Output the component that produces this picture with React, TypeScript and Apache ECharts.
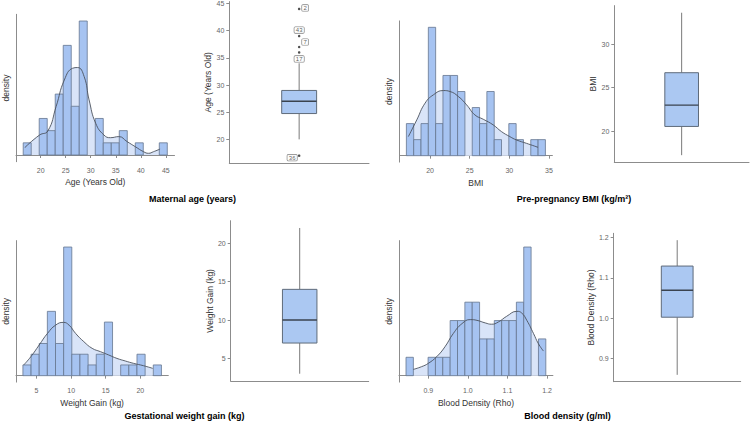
import React, { useEffect, useRef } from "react";
import * as echarts from "echarts";

// ---------- DATA ----------
const ageBinStart = 16.5;
const ageBinWidth = 1.6;
const ageCounts = [1, 0, 3, 2, 5, 9, 4, 11, 0, 3, 1, 1, 2, 0, 1, 0, 0, 1];
const ageDensity = [
  [16.8, 0.6], [19.77, 1.64], [21.42, 1.97], [23.07, 3.97], [24.72, 6.16], [26.37, 7.12],
  [27.36, 7.18], [28.68, 6.44], [29.67, 4.52], [30.99, 2.6], [32.64, 1.64], [33.96, 1.42],
  [35.61, 1.51], [37.26, 1.1], [38.91, 0.68], [40.56, 0.27], [41.55, 0.14], [42.54, 0.27], [43.86, 0.49],
];
const ageBox = [20, 24.75, 27, 29, 34];
const ageOutlierValues = [44, 39, 37, 36, 17];
const ageOutlierIds = ["2", "43", "7", "17", "36"];
const ageTicks = [20, 25, 30, 35, 40, 45];

const bmiBinStart = 17.02;
const bmiBinWidth = 0.9226;
const bmiCounts = [2, 1, 2, 8, 2, 5, 5, 4, 0, 3, 2, 4, 1, 0, 2, 1, 0, 1, 1];
const bmiDensity = [
  [17.27, 1.19], [18.33, 2.23], [19.37, 3.27], [20.42, 3.79], [21.68, 4.06], [22.52, 4.0],
  [23.57, 3.69], [24.61, 3.17], [25.66, 2.54], [26.71, 2.27], [27.96, 1.92], [29.01, 1.5],
  [30.06, 1.19], [30.9, 0.98], [32.16, 0.77], [33.62, 0.52],
];
const bmiBox = [17.23, 20.54, 23.0, 26.73, 33.64];
const bmiHistTicks = [20, 25, 30, 35];
const bmiBoxTicks = [20, 25, 30];

const wgBinStart = 3.03;
const wgBinWidth = 1.178;
const wgCounts = [1, 2, 3, 6, 3, 12, 2, 2, 1, 2, 5, 0, 1, 1, 2, 0, 1];
const wgDensity = [
  [3.13, 0.99], [4.18, 1.77], [5.38, 2.86], [6.58, 3.94], [7.77, 4.72], [8.88, 4.97],
  [9.69, 4.72], [10.65, 3.94], [11.84, 3.17], [13.04, 2.55], [14.24, 2.24], [15.43, 1.93],
  [16.63, 1.61], [17.83, 1.37], [19.02, 1.15], [20.46, 0.93], [21.8, 0.68],
];
const wgBox = [3, 7, 10, 14, 22];
const wgTicks = [5, 10, 15, 20];

const bdBinStart = 0.8436;
const bdBinWidth = 0.0186;
const bdCounts = [1, 0, 0, 1, 1, 1, 3, 3, 4, 4, 2, 2, 3, 3, 3, 4, 7, 0, 2];
const bdDensity = [
  [0.862, 0.34], [0.883, 0.49], [0.9, 0.67], [0.921, 1.03], [0.942, 1.57], [0.963, 2.29],
  [0.985, 2.83], [1.006, 3.05], [1.023, 3.01], [1.044, 2.87], [1.06, 2.8], [1.077, 2.92],
  [1.098, 3.23], [1.124, 3.5], [1.136, 3.41], [1.149, 3.01], [1.166, 2.29], [1.178, 1.75], [1.191, 1.34],
];
const bdBox = [0.86, 1.0025, 1.069, 1.129, 1.193];
const bdTicks = [0.9, 1.0, 1.1, 1.2];

// ---------- STYLE ----------
const BAR = "#a6c3f1";
const BAR_EDGE = "#66768f";
const LIGHT = "#d9e4f8";
const LINE = "#4b515c";
const AX = "#8c8c8c";
const FONT = "'Liberation Sans', Arial, sans-serif";
const labelOffsets = [[6, -1], [0, -6], [6, -5], [0, 6.5], [-7, 2]];

function histX(i: number, min: number, max: number, ticks: number[], name: string, fmt?: (v: number) => string) {
  return {
    type: "value", gridIndex: i, min, max,
    axisLine: { show: true, lineStyle: { color: AX, width: 1 } },
    axisTick: { show: true, length: 3, lineStyle: { color: AX }, customValues: ticks },
    axisLabel: { customValues: ticks, fontSize: 7, color: "#666", margin: 5, formatter: fmt },
    splitLine: { show: false },
    name, nameLocation: "middle", nameGap: 16,
    nameTextStyle: { fontSize: 8.5, color: "#333", fontFamily: FONT },
  };
}
function histY(i: number, min: number, max: number) {
  return {
    type: "value", gridIndex: i, min, max,
    axisLine: { show: true, lineStyle: { color: AX, width: 1 } },
    axisTick: { show: false }, axisLabel: { show: false }, splitLine: { show: false },
    name: "density", nameLocation: "middle", nameGap: 6,
    nameTextStyle: { fontSize: 8.5, color: "#333", fontFamily: FONT },
  };
}
function boxX(i: number) {
  return {
    type: "value", gridIndex: i, min: 0, max: 1,
    axisLine: { show: true, lineStyle: { color: AX, width: 1 } },
    axisTick: { show: false }, axisLabel: { show: false }, splitLine: { show: false },
  };
}
function boxY(i: number, min: number, max: number, ticks: number[], name: string, fmt?: (v: number) => string) {
  return {
    type: "value", gridIndex: i, min, max,
    axisLine: { show: true, lineStyle: { color: AX, width: 1 } },
    axisTick: { show: true, length: 3, lineStyle: { color: AX }, customValues: ticks },
    axisLabel: { customValues: ticks, fontSize: 7, color: "#666", margin: 5, formatter: fmt },
    splitLine: { show: false },
    name, nameLocation: "middle", nameGap: 15,
    nameTextStyle: { fontSize: 8.5, color: "#333", fontFamily: FONT },
  };
}

function histSeries(i: number, start: number, width: number, counts: number[], density: number[][]) {
  const bins = counts.map((c, k) => [start + k * width, start + (k + 1) * width, c]);
  return [
    {
      type: "line", xAxisIndex: i, yAxisIndex: i, data: density, smooth: 0.5, symbol: "none",
      lineStyle: { width: 0 }, areaStyle: { color: LIGHT, opacity: 1 }, z: 1, silent: true,
    },
    {
      type: "custom", xAxisIndex: i, yAxisIndex: i, data: bins, z: 2, silent: true,
      renderItem: (params: any, api: any) => {
        const c = api.value(2);
        if (!c) return null;
        const p0 = api.coord([api.value(0), 0]);
        const p1 = api.coord([api.value(1), c]);
        return {
          type: "rect",
          shape: { x: p0[0], y: p1[1], width: p1[0] - p0[0], height: p0[1] - p1[1] },
          style: { fill: BAR, stroke: BAR_EDGE, lineWidth: 0.8 },
        };
      },
    },
    {
      type: "line", xAxisIndex: i, yAxisIndex: i, data: density, smooth: 0.5, symbol: "none",
      lineStyle: { color: LINE, width: 0.9 }, z: 3, silent: true,
    },
  ];
}

function boxSeries(i: number, box: number[]) {
  return {
    type: "custom", xAxisIndex: i, yAxisIndex: i, data: [[0.5, ...box]], silent: true, z: 2,
    renderItem: (params: any, api: any) => {
      const x = api.value(0);
      const pMin = api.coord([x, api.value(1)]);
      const pQ1 = api.coord([x, api.value(2)]);
      const pMed = api.coord([x, api.value(3)]);
      const pQ3 = api.coord([x, api.value(4)]);
      const pMax = api.coord([x, api.value(5)]);
      const hw = api.size([0.25, 0])[0] / 2;
      const cx = pMin[0];
      return {
        type: "group",
        children: [
          { type: "line", shape: { x1: cx, y1: pMin[1], x2: cx, y2: pQ1[1] }, style: { stroke: "#7a7a7a", lineWidth: 1 } },
          { type: "line", shape: { x1: cx, y1: pQ3[1], x2: cx, y2: pMax[1] }, style: { stroke: "#7a7a7a", lineWidth: 1 } },
          { type: "rect", shape: { x: cx - hw, y: pQ3[1], width: hw * 2, height: pQ1[1] - pQ3[1] }, style: { fill: "#abc8f2", stroke: "#5f6b7a", lineWidth: 1 } },
          { type: "line", shape: { x1: cx - hw, y1: pMed[1], x2: cx + hw, y2: pMed[1] }, style: { stroke: "#3a434f", lineWidth: 1.4 } },
        ],
      };
    },
  };
}

const f1 = (v: number) => v.toFixed(1);

export default function App() {
  const ref = useRef<HTMLDivElement>(null);
  useEffect(() => {
    if (!ref.current) return;
    const chart = echarts.init(ref.current, null, { renderer: "svg" });
    const grids = [
      { left: 14.5, top: 14.3, width: 160, height: 147.4 },
      { left: 399.4, top: 20.9, width: 153, height: 141.2 },
      { left: 15, top: 240.6, width: 153.3, height: 141.5 },
      { left: 399, top: 240.6, width: 153.9, height: 141.5 },
      { left: 229.3, top: 0.4, width: 139.7, height: 162.6 },
      { left: 614.3, top: 5.6, width: 134.7, height: 156.7 },
      { left: 230.7, top: 220.7, width: 138, height: 160.3 },
      { left: 613.7, top: 233.3, width: 127, height: 148.4 },
    ];
    const outlierData = ageOutlierValues.map((v, k) => ({
      value: [0.5, v],
      name: ageOutlierIds[k],
      label: { offset: labelOffsets[k] },
    }));
    const option: any = {
      animation: false,
      textStyle: { fontFamily: FONT },
      grid: grids.map((g) => ({ ...g, containLabel: false })),
      xAxis: [
        histX(0, 15.06, 46.74, ageTicks, "Age (Years Old)"),
        histX(1, 16.14, 35.43, bmiHistTicks, "BMI"),
        histX(2, 2.03, 24.05, wgTicks, "Weight Gain (kg)"),
        histX(3, 0.8259, 1.2149, bdTicks, "Blood Density (Rho)", f1),
        boxX(4), boxX(5), boxX(6), boxX(7),
      ],
      yAxis: [
        histY(0, -0.55, 11.55),
        histY(1, -0.4, 8.4),
        histY(2, -0.6, 12.6),
        histY(3, -0.35, 7.35),
        boxY(4, 15.65, 45.35, ageTicks, "Age (Years Old)"),
        boxY(5, 16.41, 34.46, bmiBoxTicks, "BMI"),
        boxY(6, 2.05, 22.95, wgTicks, "Weight Gain (kg)"),
        boxY(7, 0.843, 1.21, bdTicks, "Blood Density (Rho)", f1),
      ],
      series: [
        ...histSeries(0, ageBinStart, ageBinWidth, ageCounts, ageDensity),
        ...histSeries(1, bmiBinStart, bmiBinWidth, bmiCounts, bmiDensity),
        ...histSeries(2, wgBinStart, wgBinWidth, wgCounts, wgDensity),
        ...histSeries(3, bdBinStart, bdBinWidth, bdCounts, bdDensity),
        boxSeries(4, ageBox),
        boxSeries(5, bmiBox),
        boxSeries(6, wgBox),
        boxSeries(7, bdBox),
        {
          type: "scatter", xAxisIndex: 4, yAxisIndex: 4, data: outlierData, symbolSize: 2.5, z: 4,
          itemStyle: { color: "#222" }, silent: true,
          label: {
            show: true, position: "inside", formatter: "{b}", fontSize: 6, color: "#333",
            backgroundColor: "#fff", borderColor: "#666", borderWidth: 0.6, borderRadius: 1,
            padding: [0, 1.5], lineHeight: 6,
          },
        },
      ],
      graphic: [
        { type: "text", left: null, x: 192.5, y: 199, style: { text: "Maternal age (years)", font: `bold 9px ${FONT}`, fill: "#000", textAlign: "center", textVerticalAlign: "middle" } },
        { type: "text", x: 574, y: 199, style: { text: "Pre-pregnancy BMI (kg/m²)", font: `bold 9px ${FONT}`, fill: "#000", textAlign: "center", textVerticalAlign: "middle" } },
        { type: "text", x: 184.5, y: 416, style: { text: "Gestational weight gain (kg)", font: `bold 9px ${FONT}`, fill: "#000", textAlign: "center", textVerticalAlign: "middle" } },
        { type: "text", x: 567.4, y: 416, style: { text: "Blood density (g/ml)", font: `bold 9px ${FONT}`, fill: "#000", textAlign: "center", textVerticalAlign: "middle" } },
      ],
    };
    chart.setOption(option);
    return () => chart.dispose();
  }, []);
  return (
    <div
      ref={ref}
      style={{ position: "absolute", left: 0, top: 0, width: 750, height: 424, background: "#fff" }}
    />
  );
}
